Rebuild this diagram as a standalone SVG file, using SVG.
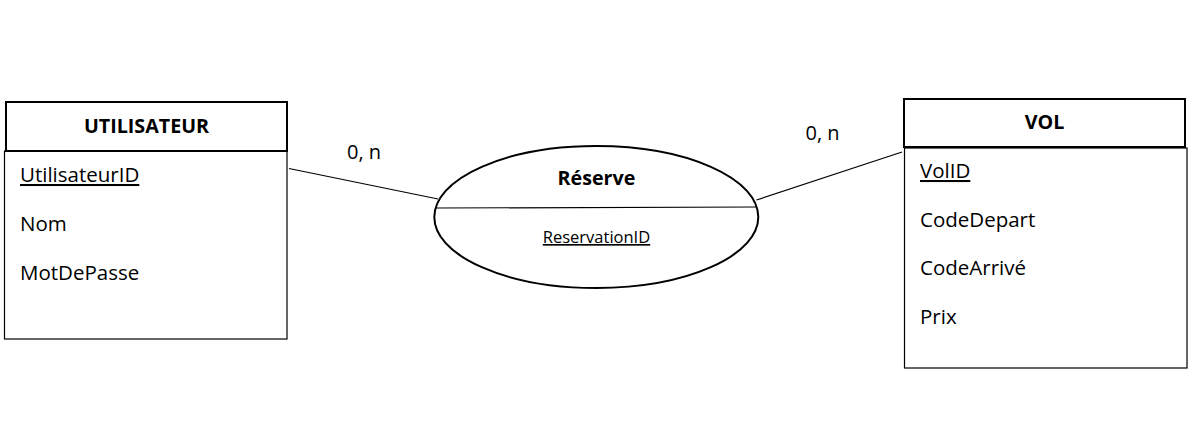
<svg xmlns="http://www.w3.org/2000/svg" width="1196" height="438" viewBox="0 0 1196 438">
<style>
.hdr{fill:#fff;stroke:#000;stroke-width:2}
.body{fill:#fff;stroke:#000;stroke-width:1.2}
.t{font-family:"Open Sans","Noto Sans",sans-serif;font-size:20.5px;fill:#000}
.n{font-family:"Open Sans","Noto Sans",sans-serif;font-size:20px;fill:#000}
.b{font-family:"Open Sans","Noto Sans",sans-serif;font-size:19.7px;font-weight:bold;fill:#000}
.s{font-family:"Open Sans","Noto Sans",sans-serif;font-size:16.5px;fill:#000}
.u{text-decoration:underline}
.c{stroke:#000;stroke-width:1.2;fill:none}
</style>
<rect width="1196" height="438" fill="#fff"/>
<g id="utilisateur">
<rect class="body" x="4.5" y="151" width="282.5" height="188"/>
<rect class="hdr" x="6" y="102" width="281" height="49"/>
<text class="b" x="146.5" y="133" text-anchor="middle">UTILISATEUR</text>
<text class="t u" x="20" y="182">UtilisateurID</text>
<text class="t" x="20" y="231">Nom</text>
<text class="t" x="20" y="280">MotDePasse</text>
</g>
<g id="vol">
<rect class="body" x="904.5" y="148" width="282.5" height="220"/>
<rect class="hdr" x="904" y="99" width="281" height="48"/>
<text class="b" x="1044.5" y="129" text-anchor="middle">VOL</text>
<text class="t u" x="920" y="178">VolID</text>
<text class="t" x="920" y="227">CodeDepart</text>
<text class="t" x="920" y="275">CodeArrivé</text>
<text class="t" x="920" y="324">Prix</text>
</g>
<g id="reserve">
<ellipse cx="596.3" cy="217" rx="162" ry="71" fill="#fff" stroke="#000" stroke-width="2"/>
<line x1="436" y1="208" x2="757" y2="207" stroke="#000" stroke-width="1.2"/>
<text class="b" x="596.5" y="185" text-anchor="middle">Réserve</text>
<text class="s u" x="596.5" y="243" text-anchor="middle">ReservationID</text>
</g>
<g id="connectors">
<line class="c" x1="289" y1="168.5" x2="438" y2="199"/>
<line class="c" x1="756.5" y1="200" x2="902" y2="152"/>
<text class="n" x="347" y="158.5">0, n</text>
<text class="n" x="805.5" y="139.5">0, n</text>
</g>
</svg>
